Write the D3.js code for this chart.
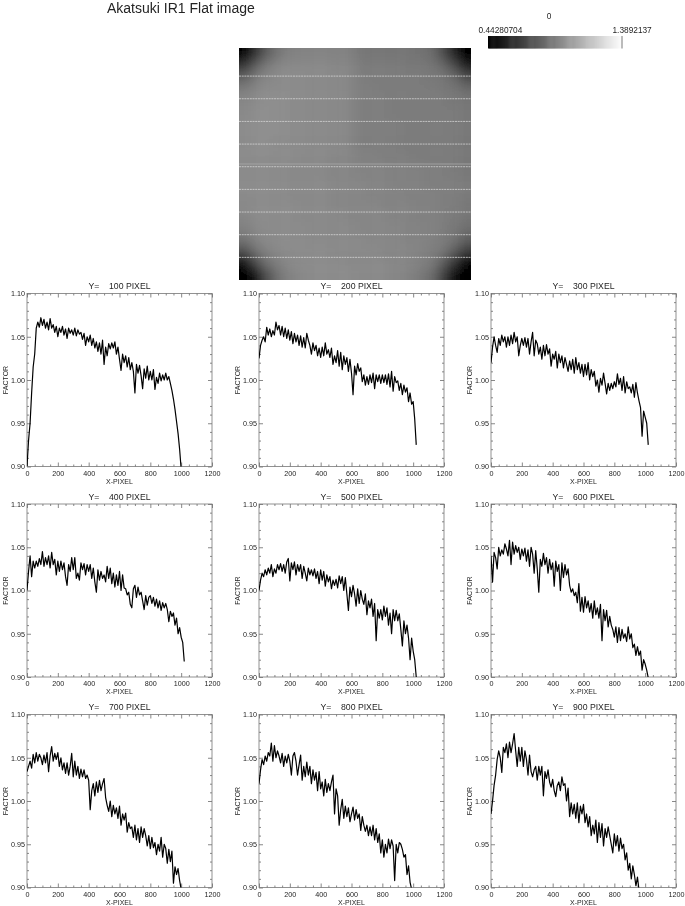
<!DOCTYPE html>
<html>
<head>
<meta charset="utf-8">
<title>Akatsuki IR1 Flat image</title>
<script src="https://cdn.jsdelivr.net/npm/d3@7"></script>
<style>
  html, body { margin: 0; padding: 0; background: #fff; }
  svg { display: block; }
  text { font-family: "Liberation Sans", Arial, sans-serif; fill: #222; opacity: 0.99; }
  .domain { stroke: none; }
  .tick line { stroke: #555; stroke-width: 0.7; }
</style>
</head>
<body>
<svg id="chart" width="685" height="906"></svg>
<script>
// factor along the row, one value per 10 detector pixels
const factorY100 = [
  .900,.930,.950,.985,1.015,1.030,1.060,1.067,1.061,1.072,
  1.063,1.070,1.060,1.067,1.058,1.071,1.060,1.064,1.055,1.062,
  1.050,1.060,1.055,1.062,1.052,1.059,1.048,1.060,1.054,1.058,
  1.052,1.060,1.051,1.058,1.053,1.055,1.047,1.054,1.040,1.050,
  1.044,1.052,1.040,1.048,1.037,1.044,1.033,1.043,1.030,1.046,
  1.018,1.038,1.028,1.042,1.036,1.043,1.037,1.044,1.030,1.038,
  1.024,1.011,1.030,1.020,1.028,1.015,1.026,1.012,1.020,1.010,
  .985,1.018,1.008,1.017,1.005,.990,1.013,1.002,1.016,1.000,
  1.010,1.000,1.012,.989,1.003,.996,1.008,.999,1.006,1.000,
  1.008,1.000,1.004,.996,.988,.978,.966,.952,.938,.920,.897];
const factorY200 = [
  1.025,1.040,1.046,1.050,1.044,1.061,1.052,1.059,1.050,1.057,
  1.052,1.067,1.058,1.063,1.052,1.062,1.050,1.060,1.048,1.058,
  1.046,1.056,1.042,1.054,1.044,1.052,1.040,1.051,1.038,1.049,
  1.037,1.054,1.046,1.040,1.030,1.043,1.034,1.040,1.028,1.037,
  1.026,1.038,1.028,1.043,1.030,1.035,1.026,1.037,1.018,1.028,
  1.020,1.034,1.016,1.032,1.012,1.028,1.018,1.026,1.010,1.024,
  1.008,.983,1.016,1.006,1.019,1.010,1.014,.998,1.006,.994,
  1.004,.995,1.006,.997,1.008,.990,1.006,.998,1.006,.996,
  1.006,.997,1.006,.995,1.007,.992,1.010,.987,1.004,.997,
  .999,.988,.996,.983,.994,.986,.991,.975,.985,.972,.975,.955,.925];
const factorY300 = [
  1.020,1.038,1.050,1.040,1.032,1.048,1.040,1.052,1.044,1.050,
  1.038,1.050,1.040,1.052,1.042,1.055,1.044,1.050,1.028,1.040,
  1.048,1.040,1.049,1.038,1.048,1.030,1.044,1.055,1.028,1.046,
  1.042,1.030,1.038,1.024,1.040,1.028,1.041,1.030,1.036,1.016,
  1.030,1.024,1.033,1.014,1.030,1.020,1.028,1.014,1.026,1.018,
  1.010,1.022,1.012,1.024,1.008,1.026,1.012,1.020,1.008,1.018,
  1.004,1.018,1.006,1.020,1.000,1.012,1.004,1.010,.993,1.000,
  .986,1.002,.994,1.008,.996,.984,.996,.988,.996,.990,
  .998,.992,1.007,.995,1.002,.988,1.004,.985,.998,.990,
  .992,.985,.995,.980,.997,.985,.976,.968,.935,.964,.957,.950,.925];
const factorY400 = [
  1.000,1.022,1.040,1.016,1.034,1.026,1.034,1.028,1.037,1.030,
  1.045,1.028,1.038,1.030,1.040,1.026,1.044,1.030,1.036,1.018,
  1.034,1.022,1.034,1.024,1.032,1.016,1.006,1.030,1.022,1.038,
  1.024,1.038,1.014,1.020,1.012,1.032,1.024,1.031,1.018,1.030,
  1.022,1.030,1.014,1.026,1.010,.998,1.024,1.012,1.022,1.014,
  1.018,1.010,1.028,1.014,1.026,1.008,1.020,1.004,1.018,1.006,
  1.022,1.000,1.018,1.003,1.002,.995,.998,.984,.980,1.002,
  1.006,.992,1.004,.995,.998,.988,.978,.994,.983,.992,
  .994,.985,.992,.982,.990,.980,.988,.977,.986,.980,
  .985,.978,.964,.976,.970,.974,.960,.968,.950,.957,.946,.940,.918];
const factorY500 = [
  1.000,1.012,1.020,1.016,1.024,1.018,1.026,1.020,1.030,1.016,
  1.025,1.020,1.030,1.024,1.031,1.022,1.030,1.020,1.033,1.037,
  1.011,1.032,1.024,1.033,1.018,1.030,1.022,1.030,1.014,1.028,
  1.020,1.011,1.026,1.018,1.024,1.017,1.025,1.014,1.022,1.008,
  1.024,1.012,1.022,1.005,1.018,1.010,1.016,1.002,1.012,1.006,
  1.013,1.003,1.017,1.008,1.016,1.000,1.015,.996,.977,1.004,
  .993,1.006,.996,.982,1.002,.985,1.000,.990,.984,.996,
  .972,.988,.980,.990,.970,.985,.942,.978,.968,.978,
  .966,.982,.970,.980,.960,.974,.950,.978,.965,.977,
  .965,.973,.955,.936,.965,.950,.960,.945,.920,.945,.930,.920,.900];
const factorY600 = [
  1.040,1.010,1.044,1.038,1.025,1.050,1.040,1.047,1.042,1.054,
  1.048,1.040,1.058,1.030,1.056,1.042,1.052,1.044,1.050,1.036,
  1.048,1.040,1.049,1.034,1.047,1.028,1.050,1.042,1.020,1.046,
  1.025,.998,1.036,1.028,1.043,1.030,1.038,1.020,1.036,1.024,
  1.032,1.005,1.034,1.022,1.030,1.000,1.032,1.015,1.030,1.018,
  1.025,1.006,.998,1.002,.994,.998,.986,1.008,.976,.992,
  .975,.993,.980,.988,.975,.985,.968,.988,.972,.980,
  .968,.984,.942,.978,.965,.977,.958,.970,.960,.955,
  .946,.958,.940,.957,.942,.955,.945,.950,.941,.958,
  .944,.950,.934,.938,.925,.935,.925,.930,.908,.920,.915,.908,.899];
const factorY700 = [
  1.034,1.040,1.046,1.038,1.054,1.044,1.056,1.046,1.054,1.050,
  1.042,1.053,1.044,1.056,1.034,1.052,1.063,1.046,1.055,1.048,
  1.056,1.040,1.050,1.036,1.044,1.032,1.044,1.030,1.040,1.055,
  1.028,1.046,1.030,1.040,1.026,1.037,1.028,1.036,1.026,1.030,
  1.024,.990,1.012,1.020,1.006,1.022,1.010,1.024,1.012,1.020,
  1.026,1.004,.995,.988,1.000,.982,.995,.985,.992,.980,
  .994,.972,.985,.978,.986,.964,.975,.968,.970,.958,
  .972,.955,.968,.952,.970,.958,.968,.960,.948,.960,
  .945,.958,.946,.952,.938,.950,.942,.958,.935,.950,
  .945,.928,.944,.930,.942,.905,.924,.915,.922,.908,.898];
const factorY800 = [
  1.020,1.036,1.048,1.042,1.052,1.046,1.056,1.052,1.067,1.046,
  1.064,1.050,1.058,1.052,1.044,1.055,1.040,1.052,1.044,1.054,
  1.046,1.030,1.052,1.056,1.046,1.030,1.042,1.053,1.024,1.040,
  1.028,1.045,1.030,1.040,1.020,1.036,1.024,1.033,1.012,1.034,
  1.014,1.022,1.006,1.025,1.010,1.020,1.012,1.022,1.030,.985,
  1.014,1.006,.972,.990,1.002,.980,.994,.982,.992,.976,
  .985,.993,.978,.990,.980,.985,.966,.982,.972,.965,
  .972,.960,.970,.960,.972,.955,.968,.952,.962,.940,
  .955,.935,.950,.940,.956,.945,.955,.948,.908,.950,
  .940,.952,.950,.944,.935,.938,.915,.925,.906,.898];
const factorY900 = [
  .985,1.000,1.018,1.030,1.048,1.058,1.050,1.033,1.062,1.056,
  1.066,1.050,1.068,1.056,1.066,1.078,1.058,1.040,1.062,1.046,
  1.062,1.040,1.058,1.048,1.030,1.053,1.034,1.028,1.036,1.040,
  1.024,1.040,1.030,1.040,1.006,1.034,1.026,1.036,1.022,1.016,
  1.025,1.012,1.005,1.018,1.022,1.012,1.028,1.018,1.020,1.000,
  1.015,.982,.998,.985,.996,.980,.998,.975,.994,.985,
  .996,.975,.985,.970,.982,.960,.972,.962,.978,.952,
  .975,.958,.974,.948,.968,.958,.970,.960,.950,.940,
  .962,.948,.960,.942,.957,.945,.950,.932,.940,.920,
  .928,.910,.925,.915,.902,.912,.897];

const rowLabels = [100, 200, 300, 400, 500, 600, 700, 800, 900];
const rowFactors = [factorY100, factorY200, factorY300, factorY400, factorY500,
  factorY600, factorY700, factorY800, factorY900];
const xTicks = [0, 200, 400, 600, 800, 1000, 1200];
const yTicks = [0.90, 0.95, 1.00, 1.05, 1.10];

// flat image, coarse 20x20 reading, top row first
const flatImage = [
  [.46,.64,.80,.89,.92,.93,.93,.93,.93,.92,.89,.88,.88,.88,.88,.87,.85,.74,.56,.34],
  [.64,.80,.90,.94,.95,.95,.95,.95,.94,.94,.90,.90,.90,.90,.89,.89,.88,.84,.72,.54],
  [.80,.90,.94,.96,.96,.96,.95,.95,.95,.94,.91,.90,.90,.90,.90,.90,.89,.88,.84,.72],
  [.90,.94,.96,.96,.96,.96,.95,.95,.95,.94,.91,.91,.90,.90,.90,.90,.90,.89,.88,.84],
  [.94,.96,.97,.97,.96,.96,.95,.95,.95,.94,.91,.91,.91,.90,.90,.90,.90,.90,.89,.88],
  [.95,.97,.97,.97,.96,.96,.95,.95,.95,.94,.91,.91,.91,.90,.90,.90,.90,.90,.90,.89],
  [.96,.97,.97,.97,.96,.96,.95,.95,.95,.94,.91,.91,.91,.91,.90,.90,.90,.90,.90,.89],
  [.96,.97,.97,.97,.96,.96,.95,.95,.95,.94,.91,.91,.91,.91,.90,.90,.90,.90,.90,.89],
  [.96,.97,.97,.96,.96,.96,.95,.95,.95,.94,.91,.91,.91,.91,.90,.90,.90,.90,.90,.89],
  [.96,.96,.96,.96,.96,.95,.95,.95,.94,.94,.92,.92,.91,.91,.91,.90,.90,.90,.90,.89],
  [.96,.96,.96,.96,.95,.95,.95,.94,.94,.94,.93,.93,.93,.92,.92,.92,.91,.91,.90,.89],
  [.96,.96,.96,.96,.95,.95,.95,.95,.94,.94,.94,.93,.93,.92,.92,.92,.91,.91,.91,.90],
  [.96,.96,.96,.96,.95,.95,.95,.95,.94,.94,.94,.93,.93,.93,.92,.92,.92,.91,.91,.90],
  [.95,.96,.96,.96,.96,.95,.95,.95,.94,.94,.94,.94,.93,.93,.93,.92,.92,.91,.91,.89],
  [.94,.96,.96,.96,.96,.95,.95,.95,.95,.94,.94,.94,.94,.93,.93,.92,.92,.91,.90,.88],
  [.92,.95,.96,.96,.96,.96,.95,.95,.95,.95,.94,.94,.94,.94,.93,.93,.92,.91,.89,.86],
  [.87,.93,.95,.96,.96,.96,.95,.95,.95,.95,.95,.94,.94,.94,.93,.93,.92,.90,.88,.79],
  [.74,.87,.93,.95,.96,.96,.96,.96,.95,.95,.95,.95,.94,.94,.94,.93,.91,.89,.79,.66],
  [.50,.73,.87,.92,.95,.96,.96,.96,.96,.95,.95,.95,.95,.94,.94,.92,.90,.80,.64,.44],
  [.30,.52,.75,.88,.93,.95,.96,.96,.96,.96,.95,.95,.95,.94,.93,.90,.85,.70,.48,.28]
];
const imageRows = [100, 200, 300, 400, 500, 600, 700, 800, 900];
const colorBarRange = [0.44280704, 1.3892137];
const colorBarLabels = ["0.44280704", "1.3892137"];
const colorBarSteps = d3.range(0, 128);

const svg = d3.select("#chart");
const gray = d3.scaleLinear().domain(colorBarRange).range(["#000", "#fff"]).clamp(true);

svg.append("text")
  .attr("x", 107).attr("y", 12.7)
  .attr("font-size", 14)
  .text("Akatsuki IR1 Flat image");

// color bar
const barX = d3.scaleLinear().domain([0, 127]).range([488, 622]);
const barG = svg.append("g");
barG.selectAll("rect").data(colorBarSteps).join("rect")
  .attr("x", (d) => barX(d))
  .attr("y", 36)
  .attr("width", 1.6)
  .attr("height", 12.5)
  .attr("fill", (d) => gray(colorBarRange[0] + (d / 127) * (colorBarRange[1] - colorBarRange[0])));
barG.append("line")
  .attr("x1", 622).attr("x2", 622).attr("y1", 36).attr("y2", 48.5)
  .attr("stroke", "#555").attr("stroke-width", 0.8);
svg.append("text").attr("x", 549).attr("y", 19)
  .attr("text-anchor", "middle").attr("font-size", 8.3).text("0");
svg.append("text").attr("x", 478.5).attr("y", 32.5)
  .attr("font-size", 8.3).text(colorBarLabels[0]);
svg.append("text").attr("x", 612.5).attr("y", 32.5)
  .attr("font-size", 8.3).text(colorBarLabels[1]);

// flat image
const imgX = d3.scaleBand().domain(d3.range(20)).range([239, 471]);
const imgY = d3.scaleBand().domain(d3.range(20)).range([48, 280]);
const imgRow = d3.scaleLinear().domain([0, 1024]).range([280, 48]);
const defs = svg.append("defs");
defs.append("clipPath").attr("id", "imgClip").append("rect")
  .attr("x", 239).attr("y", 48).attr("width", 232).attr("height", 232);
defs.append("filter").attr("id", "soft")
  .attr("filterUnits", "userSpaceOnUse")
  .attr("x", 200).attr("y", 10).attr("width", 310).attr("height", 310)
  .append("feGaussianBlur").attr("stdDeviation", 5.5);
defs.append("filter").attr("id", "jpegSoft")
  .append("feGaussianBlur").attr("stdDeviation", 0.3);

const imgOuter = svg.append("g").attr("clip-path", "url(#imgClip)");
const imgCells = imgOuter.append("g").attr("filter", "url(#soft)");
const pad = 24; // border cells run past the clip so the blur keeps the edge dark
flatImage.forEach((row, r) => {
  imgCells.selectAll(null).data(row).join("rect")
    .attr("x", (d, c) => imgX(c) - (c === 0 ? pad : 0))
    .attr("y", imgY(r) - (r === 0 ? pad : 0))
    .attr("width", (d, c) => imgX.bandwidth() + 0.5 + (c === 0 || c === 19 ? pad : 0))
    .attr("height", imgY.bandwidth() + 0.5 + (r === 0 || r === 19 ? pad : 0))
    .attr("fill", (d) => gray(d));
});
imgOuter.selectAll("line.row").data(imageRows).join("line")
  .attr("class", "row")
  .attr("x1", 239).attr("x2", 471)
  .attr("y1", (d) => imgRow(d)).attr("y2", (d) => imgRow(d))
  .attr("stroke", "#d4d4d4").attr("stroke-width", 0.8)
  .attr("stroke-dasharray", "2 0.7");
imgOuter.append("line")
  .attr("x1", 239).attr("x2", 471)
  .attr("y1", imgRow(512)).attr("y2", imgRow(512))
  .attr("stroke", "#a8a8a8").attr("stroke-width", 0.8);

// line panels
const colLeft = [27, 259, 491];
const rowTop = [293.5, 504, 714.5];
const plotW = 185;
const plotH = 173;

function drawPanel(i) {
  const left = colLeft[i % 3];
  const top = rowTop[Math.floor(i / 3)];
  const x = d3.scaleLinear().domain([0, 1200]).range([0, plotW]);
  const y = d3.scaleLinear().domain([0.90, 1.10]).range([plotH, 0]);
  const g = svg.append("g").attr("transform", `translate(${left},${top})`);

  defs.append("clipPath").attr("id", "plot" + i).append("rect")
    .attr("width", plotW).attr("height", plotH);

  const xMinor = d3.range(0, 1201, 50).filter((d) => d % 200 !== 0);
  const yMinor = d3.range(90, 111).filter((d) => d % 5 !== 0).map((d) => d / 100);

  // major ticks with labels, then minor ticks, then mirrored on top and right
  const xAxis = g.append("g").attr("transform", `translate(0,${plotH})`)
    .call(d3.axisBottom(x).tickValues(xTicks).tickSize(-4).tickPadding(4).tickFormat(d3.format("d")));
  const yAxis = g.append("g")
    .call(d3.axisLeft(y).tickValues(yTicks).tickSize(-4).tickPadding(2).tickFormat(d3.format(".2f")));
  g.append("g").attr("transform", `translate(0,${plotH})`)
    .call(d3.axisBottom(x).tickValues(xMinor).tickSize(-2).tickFormat(""));
  g.append("g").call(d3.axisLeft(y).tickValues(yMinor).tickSize(-2).tickFormat(""));
  g.append("g").call(d3.axisTop(x).tickValues(xTicks).tickSize(-4).tickFormat(""));
  g.append("g").call(d3.axisTop(x).tickValues(xMinor).tickSize(-2).tickFormat(""));
  g.append("g").attr("transform", `translate(${plotW},0)`)
    .call(d3.axisRight(y).tickValues(yTicks).tickSize(-4).tickFormat(""));
  g.append("g").attr("transform", `translate(${plotW},0)`)
    .call(d3.axisRight(y).tickValues(yMinor).tickSize(-2).tickFormat(""));
  xAxis.selectAll("text").attr("font-size", 7.2);
  yAxis.selectAll("text").attr("font-size", 7.2);

  g.append("rect")
    .attr("width", plotW).attr("height", plotH)
    .attr("fill", "none").attr("stroke", "#777").attr("stroke-width", 0.8);

  const line = d3.line().x((d, k) => x(k * 10)).y((d) => y(d));
  g.append("g").attr("clip-path", `url(#plot${i})`)
    .append("path")
    .datum(rowFactors[i])
    .attr("filter", "url(#jpegSoft)")
    .attr("fill", "none")
    .attr("stroke", "#000")
    .attr("stroke-width", 1.2)
    .attr("stroke-linejoin", "round")
    .attr("d", line);

  g.append("text")
    .attr("x", plotW / 2).attr("y", -4.5)
    .attr("text-anchor", "middle").attr("font-size", 8.7)
    .attr("xml:space", "preserve").style("white-space", "pre")
    .text("Y=    " + rowLabels[i] + " PIXEL");
  g.append("text")
    .attr("x", plotW / 2).attr("y", plotH + 17.3)
    .attr("text-anchor", "middle").attr("font-size", 7).text("X-PIXEL");
  g.append("text")
    .attr("transform", `translate(-19.5,${plotH / 2}) rotate(-90)`)
    .attr("text-anchor", "middle").attr("font-size", 7).text("FACTOR");
}

rowLabels.forEach((d, i) => drawPanel(i));
</script>
</body>
</html>
